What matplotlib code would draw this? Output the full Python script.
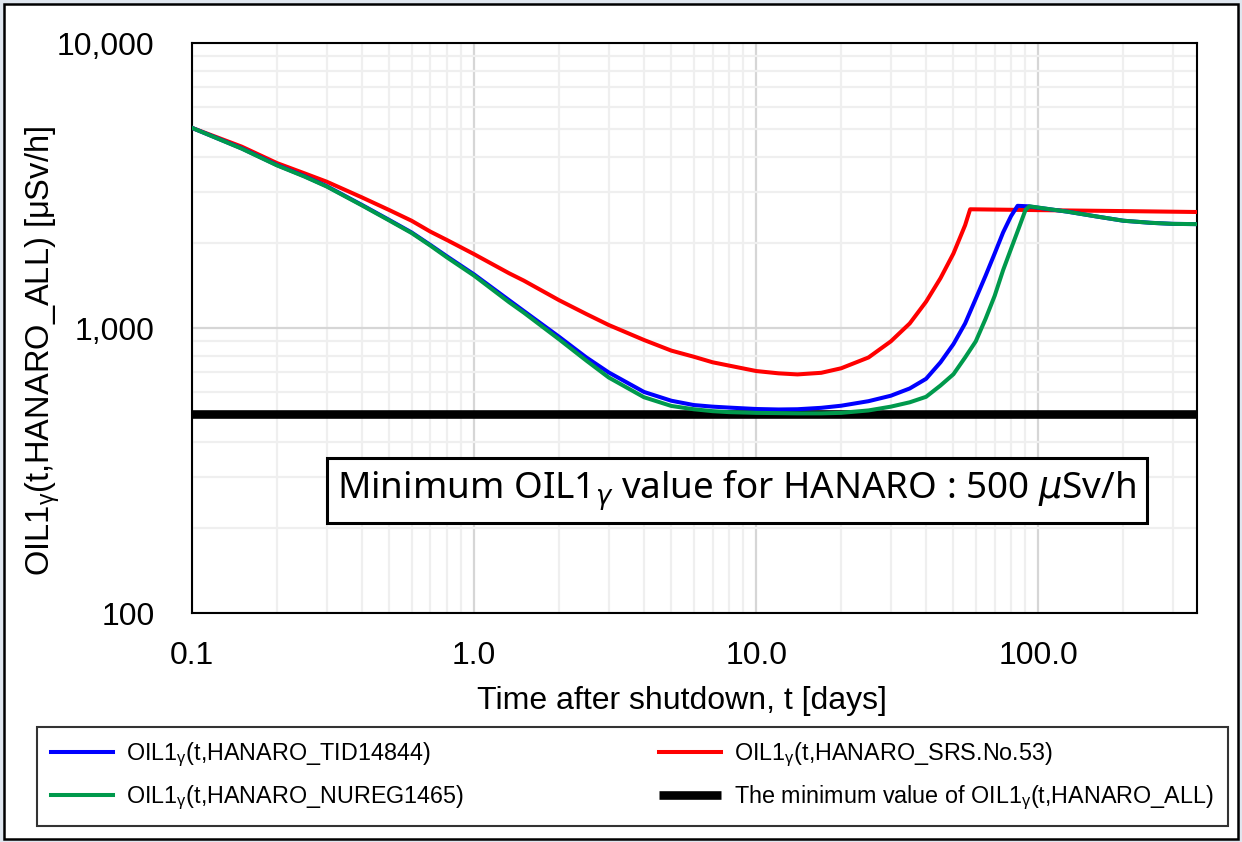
import matplotlib
matplotlib.use("Agg")
import matplotlib.pyplot as plt
from matplotlib.patches import Rectangle
from matplotlib.ticker import FixedLocator, FixedFormatter, NullFormatter, LogLocator

plt.rcParams['font.family'] = ['Liberation Sans', 'DejaVu Sans']
plt.rcParams['mathtext.fontset'] = 'dejavusans'

# ---- data ----
t_blue = [0.1, 0.15, 0.2, 0.25, 0.3, 0.4, 0.5, 0.6, 0.7, 0.8, 1.0, 1.33, 1.5, 2, 2.5, 3, 4, 5, 6, 7, 8, 10,
          12, 14, 17, 20, 25, 30, 35, 40, 45, 50, 55, 60, 65, 70, 75, 80, 84.4, 91.6, 127, 160, 200, 250, 300, 365]
v_blue = [5050, 4280, 3740, 3420, 3155, 2710, 2400, 2170, 1960, 1790, 1545, 1255, 1150, 934, 790, 700, 598, 557, 538, 531, 527, 521,
          519, 520, 526, 535, 555, 580, 615, 665, 760, 880, 1040, 1270, 1530, 1830, 2170, 2475, 2690, 2680, 2565, 2470, 2385, 2345, 2325, 2320]

t_green = [0.1, 0.15, 0.2, 0.25, 0.3, 0.4, 0.5, 0.6, 0.7, 0.8, 1.0, 1.33, 1.5, 2, 2.5, 3, 4, 5, 6, 7, 8, 10,
           14, 17, 20, 25, 30, 35, 40, 45, 50, 55, 60, 65, 70, 75, 80, 85, 90, 92.8, 127, 160, 200, 250, 300, 365]
v_green = [5050, 4270, 3730, 3410, 3145, 2700, 2390, 2160, 1950, 1775, 1530, 1235, 1135, 915, 770, 672, 573, 534, 520, 512, 508, 505,
           503, 503, 505, 515, 531, 550, 575, 630, 690, 790, 900, 1080, 1300, 1600, 1900, 2230, 2600, 2680, 2565, 2470, 2385, 2345, 2325, 2320]

t_red = [0.1, 0.15, 0.2, 0.25, 0.3, 0.4, 0.5, 0.6, 0.7, 0.8, 1.0, 1.33, 1.5, 2, 2.5, 3, 4, 5, 6, 7, 8, 10,
         12, 14, 17, 20, 25, 30, 35, 40, 45, 50, 55, 57.3, 100, 200, 365]
v_red = [5050, 4340, 3800, 3500, 3270, 2880, 2600, 2385, 2183, 2042, 1820, 1560, 1470, 1255, 1122, 1027, 910, 835, 795, 760, 740, 708,
         695, 689, 698, 724, 790, 900, 1040, 1240, 1500, 1830, 2300, 2616, 2598, 2578, 2559]

t_min = [0.1, 365]
v_min = [500, 500]

x_ticks = [0.1, 1, 10, 100]
x_ticklabels = ['0.1', '1.0', '10.0', '100.0']
y_ticks = [100, 1000, 10000]
y_ticklabels = ['100', '1,000', '10,000']

labels = [r'OIL1$_{\mathregular{γ}}$(t,HANARO_TID14844)',
          r'OIL1$_{\mathregular{γ}}$(t,HANARO_NUREG1465)',
          r'OIL1$_{\mathregular{γ}}$(t,HANARO_SRS.No.53)',
          r'The minimum value of OIL1$_{\mathregular{γ}}$(t,HANARO_ALL)']

W, H = 1242, 842
fig = plt.figure(figsize=(W / 100, H / 100), dpi=100)
fig.patch.set_facecolor('#dfe6ef')
frame = Rectangle((4 / W, 3 / H), 1234 / W, 835 / H, transform=fig.transFigure,
                  facecolor='white', edgecolor='black', linewidth=1.8, zorder=-5)
fig.patches.append(frame)

ax = fig.add_axes([192 / W, 1 - 613.3 / H, (1197 - 192) / W, (613.3 - 43.3) / H])
ax.set_zorder(2)
ax.set_facecolor('white')

l_min, = ax.plot(t_min, v_min, color='black', lw=6.2, solid_capstyle='butt', zorder=2)
l_red, = ax.plot(t_red, v_red, color='#ff0000', lw=2.9, zorder=3)
l_blue, = ax.plot(t_blue, v_blue, color='#0000ff', lw=2.9, zorder=4)
l_green, = ax.plot(t_green, v_green, color='#00994c', lw=2.9, zorder=5)

ax.set_xscale('log')
ax.set_yscale('log')
ax.set_xlim(0.1, 365)
ax.set_ylim(100, 10000)

ax.xaxis.set_major_locator(FixedLocator(x_ticks))
ax.xaxis.set_major_formatter(FixedFormatter(x_ticklabels))
ax.xaxis.set_minor_locator(LogLocator(base=10, subs=range(2, 10)))
ax.xaxis.set_minor_formatter(NullFormatter())
ax.yaxis.set_major_locator(FixedLocator(y_ticks))
ax.yaxis.set_major_formatter(FixedFormatter(y_ticklabels))
ax.yaxis.set_minor_locator(LogLocator(base=10, subs=range(2, 10)))
ax.yaxis.set_minor_formatter(NullFormatter())

ax.grid(which='major', color='#d6d6d6', lw=1.6, zorder=0)
ax.grid(which='minor', color='#efefef', lw=1.6, zorder=0)
ax.set_axisbelow(True)

ax.tick_params(which='both', length=0)
ax.tick_params(axis='x', labelsize=23, pad=20)
ax.tick_params(axis='y', labelsize=23, pad=27)
for s in ax.spines.values():
    s.set_color('black')
    s.set_linewidth(1.5)

ax.set_xlabel('Time after shutdown, t [days]', fontsize=23)
ax.xaxis.set_label_coords(0.4876, -0.127)
ax.set_ylabel(r'OIL1$_{\mathregular{γ}}$(t,HANARO_ALL) [μSv/h]', fontsize=23.5)
ax.yaxis.set_label_coords(-0.129, 0.46)

ax.text(0.542, 0.216, r'Minimum OIL1$_{\gamma}$ value for HANARO : 500 $\mu$Sv/h',
        transform=ax.transAxes, ha='center', va='center', fontsize=26.5, family=['Noto Sans', 'DejaVu Sans'],
        bbox=dict(boxstyle='square,pad=0.28', facecolor='white', edgecolor='black', linewidth=2.2), zorder=6)

leg = fig.legend([l_blue, l_green, l_red, l_min], labels, ncol=2, mode='expand',
                 bbox_to_anchor=(37 / W, 1 - 826 / H, (1228 - 37) / W, (826 - 727) / H),
                 loc='center', fontsize=16.8, frameon=True, fancybox=False, handlelength=2.65,
                 handletextpad=0.55, labelspacing=0.62, borderpad=0.6, borderaxespad=0)
leg.get_frame().set_edgecolor('black')
leg.get_frame().set_linewidth(1.5)
leg.set_zorder(3)

fig.savefig('out.png', dpi=100, facecolor=fig.get_facecolor())
